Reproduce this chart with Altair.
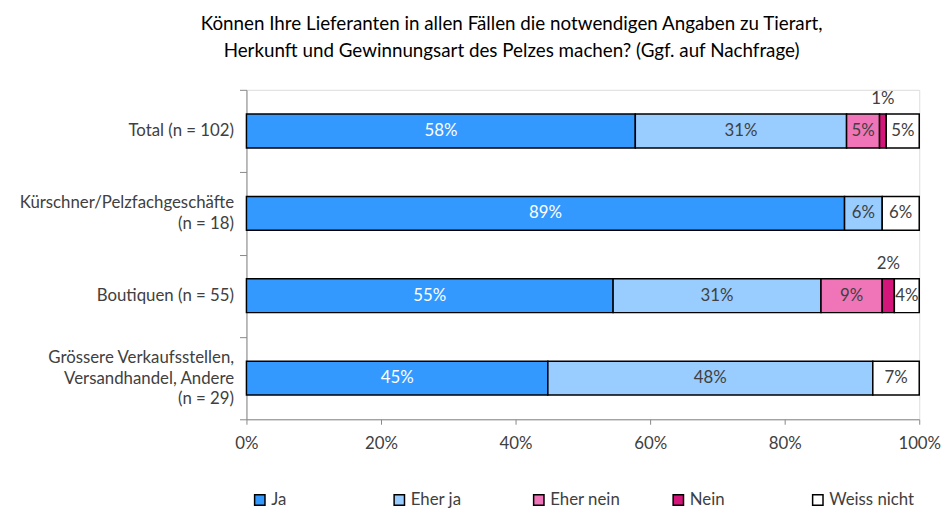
import altair as alt
import pandas as pd

categories = [
    "Total (n = 102)",
    "Kürschner/Pelzfachgeschäfte|(n = 18)",
    "Boutiquen (n = 55)",
    "Grössere Verkaufsstellen,|Versandhandel, Andere|(n = 29)",
]
answers = ["Ja", "Eher ja", "Eher nein", "Nein", "Weiss nicht"]
colors = ["#3399FF", "#99CCFF", "#F075B8", "#D4157A", "#FFFFFF"]

ja = [57.8, 88.9, 54.5, 44.8]
eher_ja = [31.4, 5.6, 30.9, 48.3]
eher_nein = [4.9, 0.0, 9.1, 0.0]
nein = [1.0, 0.0, 1.8, 0.0]
weiss_nicht = [4.9, 5.5, 3.7, 6.9]
labels = [
    ["58%", "31%", "5%", "1%", "5%"],
    ["89%", "6%", "", "", "6%"],
    ["55%", "31%", "9%", "2%", "4%"],
    ["45%", "48%", "", "", "7%"],
]

series = [ja, eher_ja, eher_nein, nein, weiss_nicht]
rows = []
for i, cat in enumerate(categories):
    start = 0.0
    for j, ans in enumerate(answers):
        v = series[j][i]
        if v <= 0:
            continue
        end = start + v
        rows.append({
            "cat": cat, "answer": ans, "start": start, "end": end,
            "mid": (start + end) / 2, "label": labels[i][j],
            "small": v < 3, "white": ans == "Ja",
        })
        start = end
df = pd.DataFrame(rows)

FONT = "Lato"
TXT = "#404040"
FS = 17

label_offset = {
    "condition": [
        {"test": "length(split(datum.value, '|')) == 2", "value": -10.5},
        {"test": "length(split(datum.value, '|')) == 3", "value": -21},
    ],
    "value": 0,
}

y_enc = alt.Y("cat:N", sort=categories, title=None,
              scale=alt.Scale(paddingInner=0, paddingOuter=0),
              axis=alt.Axis(labelExpr="split(datum.label, '|')", labelFontSize=FS,
                            labelColor=TXT, labelFont=FONT, tickBand="extent",
                            tickSize=7, domainColor="#888888", tickColor="#888888",
                            labelPadding=6, labelLineHeight=21, labelLimit=300,
                            labelOffset=label_offset))
x_scale = alt.Scale(domain=[0, 100], nice=False)

bars = alt.Chart(df).mark_bar(stroke="black", strokeWidth=1.5,
                              height=alt.RelativeBandSize(0.41)).encode(
    x=alt.X("start:Q", scale=x_scale, title=None,
            axis=alt.Axis(values=[0, 20, 40, 60, 80, 100], labelExpr="datum.value + '%'",
                          labelFontSize=FS, labelColor=TXT, labelFont=FONT, grid=False,
                          tickSize=5, domainColor="#888888", tickColor="#888888",
                          labelPadding=12, labelFlush=False)),
    x2="end:Q",
    y=y_enc,
    color=alt.Color("answer:N", sort=answers,
                    scale=alt.Scale(domain=answers, range=colors),
                    legend=alt.Legend(title=None, orient="none", legendX=5, legendY=406,
                                      direction="horizontal", columns=5, symbolType="square",
                                      symbolSize=110, symbolStrokeColor="black",
                                      symbolStrokeWidth=1.5, labelFontSize=FS,
                                      labelColor=TXT, labelFont=FONT, gridAlign="all",
                                      columnPadding=35, symbolOffset=0, labelOffset=3)),
)

inner = alt.Chart(df).transform_filter("!datum.small").mark_text(
    fontSize=FS, font=FONT, baseline="middle").encode(
    x=alt.X("mid:Q", scale=x_scale),
    y=alt.Y("cat:N", sort=categories),
    text="label:N",
    color=alt.condition("datum.white", alt.value("white"), alt.value(TXT)),
)

outer = alt.Chart(df).transform_filter("datum.small").mark_text(
    fontSize=FS, font=FONT, baseline="middle", dy=-32, color=TXT).encode(
    x=alt.X("mid:Q", scale=x_scale),
    y=alt.Y("cat:N", sort=categories),
    text="label:N",
)

chart = alt.layer(bars, inner, outer).properties(
    width=680, height=333,
    title=alt.TitleParams(
        ["Können Ihre Lieferanten in allen Fällen die notwendigen Angaben zu Tierart,",
         "Herkunft und Gewinnungsart des Pelzes machen? (Ggf. auf Nachfrage)"],
        fontSize=19, font=FONT, fontWeight="normal", color="black", anchor="middle",
        lineHeight=27, offset=20, dx=-72),
).configure_view(stroke=None).configure(padding={"left": 11, "top": 5, "right": 0, "bottom": 0})

chart.save("out.html", embed_options={"renderer": "svg", "actions": False})
